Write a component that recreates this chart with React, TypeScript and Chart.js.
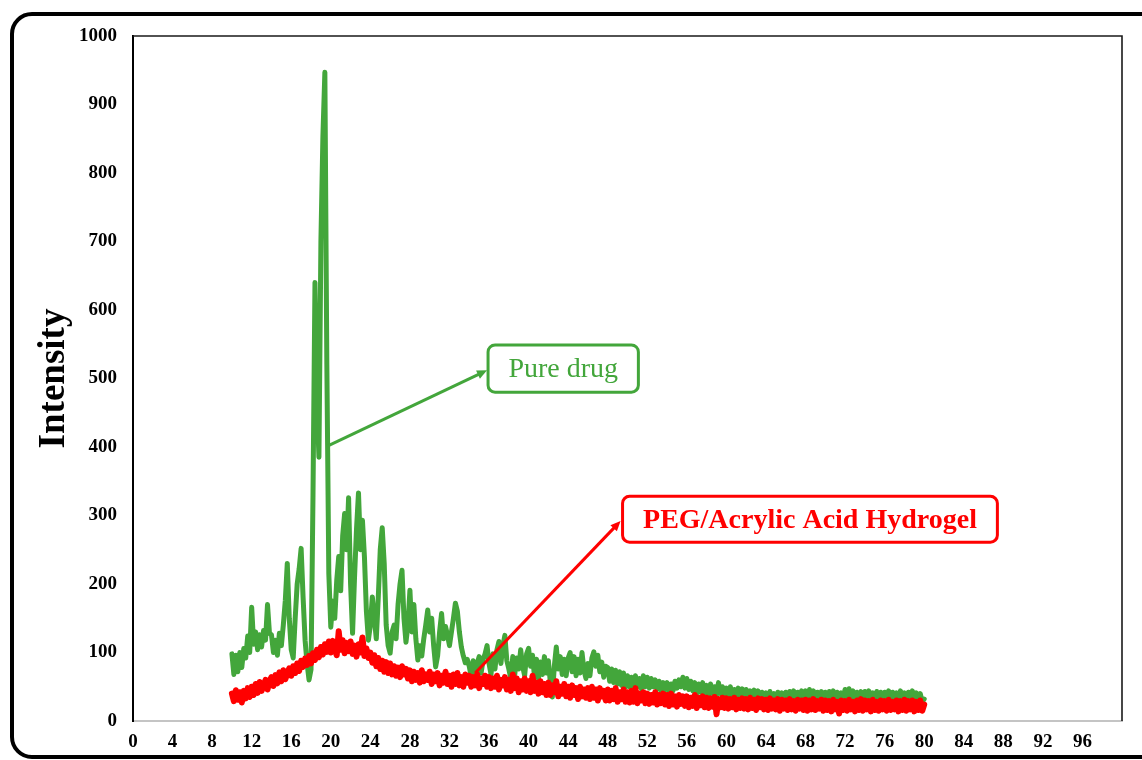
import React, { useEffect, useRef } from "react";
import { Chart, registerables } from "chart.js";

Chart.register(...registerables);

// 2-theta grid of the scans (degrees)
const ANGLE_START = 10;
const ANGLE_STEP = 0.2;

// Pure drug intensities, 10.0 .. 80.0 deg, step 0.2
const pureDrug: number[] = [
  98, 68, 96, 72, 100, 78, 106, 92, 124, 100,
  166, 112, 130, 104, 126, 108, 132, 118, 170, 128,
  126, 100, 118, 96, 128, 110, 140, 176, 230, 150,
  104, 92, 150, 200, 222, 252, 180, 118, 84, 60,
  75, 330, 640, 470, 385, 700, 852, 947, 520, 215,
  137, 175, 150, 205, 240, 190, 270, 303, 250, 326,
  200, 128, 210, 280, 333, 250, 293, 240, 160, 118,
  140, 181, 150, 120, 180, 250, 282, 230, 140, 110,
  99, 130, 140, 120, 170, 200, 220, 150, 115, 140,
  191, 130, 170, 120, 89, 110, 95, 120, 140, 162,
  130, 150, 110, 79, 95, 130, 157, 120, 138, 125,
  110, 130, 150, 172, 160, 130, 108, 95, 85, 90,
  80, 64, 88, 62, 84, 94, 70, 90, 98, 110,
  84, 68, 98, 76, 104, 116, 84, 110, 125, 88,
  76, 62, 94, 68, 92, 76, 104, 80, 66, 98,
  106, 80, 96, 64, 90, 62, 86, 68, 94, 70,
  88, 56, 35, 80, 108, 76, 94, 68, 90, 66,
  92, 100, 72, 94, 66, 90, 70, 100, 74, 62,
  84, 66, 92, 101, 80, 96, 72, 86, 64, 80,
  78, 58, 76, 56, 74, 54, 72, 52, 70, 50,
  66, 50, 64, 48, 66, 50, 62, 47, 66, 50,
  64, 48, 62, 50, 60, 46, 58, 44, 56, 46,
  56, 42, 54, 44, 58, 48, 60, 50, 64, 48,
  62, 46, 58, 44, 56, 40, 54, 42, 56, 40,
  52, 38, 54, 40, 50, 38, 56, 40, 50, 38,
  48, 34, 50, 36, 46, 34, 48, 36, 47, 33,
  46, 33, 44, 34, 45, 31, 44, 32, 42, 31,
  41, 30, 43, 32, 40, 29, 42, 31, 41, 29,
  42, 31, 43, 32, 44, 30, 42, 33, 44, 31,
  44, 33, 46, 32, 44, 31, 42, 32, 43, 33,
  42, 31, 43, 34, 44, 32, 42, 31, 41, 32,
  46, 35, 47, 34, 44, 33, 42, 32, 43, 31,
  43, 32, 44, 33, 41, 31, 43, 32, 42, 31,
  42, 33, 44, 31, 42, 32, 41, 31, 44, 32,
  41, 31, 42, 32, 44, 31, 41, 30, 40, 28,
  32,
];

// PEG/Acrylic Acid Hydrogel intensities, 10.0 .. 80.0 deg, step 0.2
const hydrogel: number[] = [
  40, 29, 45, 31, 42, 27, 44, 33, 48, 35,
  50, 38, 54, 41, 57, 44, 52, 60, 46, 58,
  64, 51, 67, 55, 71, 58, 74, 61, 69, 77,
  66, 80, 70, 84, 73, 88, 79, 91, 82, 95,
  84, 99, 89, 104, 93, 108, 97, 112, 101, 116,
  100, 117, 105, 96, 131, 104, 118, 99, 114, 102,
  116, 98, 110, 94, 112, 100, 122, 95, 106, 92,
  100, 85, 96, 80, 92, 76, 88, 72, 86, 70,
  84, 68, 80, 66, 78, 64, 80, 68, 76, 62,
  74, 58, 72, 60, 70, 56, 74, 58, 68, 60,
  72, 54, 68, 58, 70, 52, 66, 56, 72, 54,
  66, 50, 68, 54, 70, 52, 64, 50, 68, 56,
  66, 50, 64, 52, 68, 48, 62, 54, 66, 50,
  64, 48, 62, 50, 66, 46, 60, 52, 64, 46,
  60, 44, 68, 48, 62, 42, 58, 46, 62, 44,
  58, 42, 66, 44, 56, 40, 58, 42, 54, 38,
  56, 38, 52, 42, 58, 36, 50, 40, 54, 36,
  50, 34, 52, 38, 48, 32, 50, 36, 46, 34,
  48, 32, 50, 34, 46, 30, 48, 36, 44, 30,
  46, 30, 44, 32, 48, 28, 42, 32, 46, 28,
  42, 27, 44, 28, 48, 26, 40, 30, 42, 26,
  40, 25, 38, 27, 42, 24, 38, 26, 40, 24,
  38, 22, 40, 24, 36, 21, 38, 25, 36, 22,
  36, 20, 34, 22, 38, 19, 34, 23, 36, 20,
  34, 19, 33, 21, 35, 10, 32, 20, 34, 19,
  33, 18, 32, 20, 34, 17, 31, 19, 33, 18,
  32, 17, 34, 19, 31, 16, 33, 20, 32, 17,
  31, 16, 33, 18, 30, 17, 32, 15, 31, 18,
  30, 16, 32, 17, 29, 15, 31, 18, 30, 16,
  31, 15, 30, 17, 32, 16, 29, 18, 31, 15,
  30, 16, 29, 14, 31, 17, 28, 11, 30, 16,
  29, 15, 31, 17, 28, 14, 30, 16, 32, 15,
  30, 17, 29, 14, 31, 16, 28, 15, 30, 17,
  29, 15, 31, 16, 28, 17, 30, 14, 29, 16,
  31, 15, 29, 17, 30, 14, 28, 16, 30, 15,
  24,
];

const X_MIN = 0;
const X_MAX = 100;
const X_STEP = 4;
const X_LAST_LABEL = 96;
const Y_MIN = 0;
const Y_MAX = 1000;
const Y_STEP = 100;

const SERIES_NAMES = ["Pure drug", "PEG/Acrylic Acid Hydrogel"];
const Y_TITLE = "Intensity";

// callouts in data coordinates
const callouts = [
  {
    text: "Pure drug",
    color: "#43a63b",
    bold: false,
    from: [19.6, 401],
    to: [35.8, 512],
    box: [35.9, 549, 51.1, 480],
  },
  {
    text: "PEG/Acrylic Acid Hydrogel",
    color: "#ff0000",
    bold: true,
    from: [34.6, 70],
    to: [49.3, 292],
    box: [49.5, 328, 87.4, 261],
  },
];

const SERIF = "'Liberation Serif', 'Times New Roman', serif";

const toPoints = (vals: number[]) =>
  vals.map((v, i) => ({ x: +(ANGLE_START + i * ANGLE_STEP).toFixed(1), y: v }));

const framePlugin = {
  id: "frame",
  beforeDraw(chart: any) {
    const ctx = chart.ctx;
    ctx.save();
    ctx.fillStyle = "#ffffff";
    ctx.fillRect(0, 0, chart.width, chart.height);
    ctx.strokeStyle = "#000000";
    ctx.lineWidth = 4;
    ctx.beginPath();
    (ctx as any).roundRect(12, 14, 1150, 743, 20);
    ctx.stroke();
    ctx.restore();
  },
  afterDraw(chart: any) {
    const { ctx, chartArea } = chart;
    ctx.save();
    ctx.strokeStyle = "#1a1a1a";
    ctx.lineWidth = 1.6;
    ctx.beginPath();
    ctx.moveTo(chartArea.left, chartArea.top);
    ctx.lineTo(chartArea.right, chartArea.top);
    ctx.lineTo(chartArea.right, chartArea.bottom);
    ctx.stroke();
    ctx.restore();
  },
};

const calloutPlugin = {
  id: "callouts",
  afterDatasetsDraw(chart: any) {
    const ctx = chart.ctx;
    const xs = chart.scales.x;
    const ys = chart.scales.y;
    ctx.save();
    for (const c of callouts) {
      const x1 = xs.getPixelForValue(c.from[0]);
      const y1 = ys.getPixelForValue(c.from[1]);
      const x2 = xs.getPixelForValue(c.to[0]);
      const y2 = ys.getPixelForValue(c.to[1]);
      const ang = Math.atan2(y2 - y1, x2 - x1);
      const head = 11;
      ctx.strokeStyle = c.color;
      ctx.fillStyle = c.color;
      ctx.lineWidth = 3;
      ctx.beginPath();
      ctx.moveTo(x1, y1);
      ctx.lineTo(x2 - Math.cos(ang) * head * 0.8, y2 - Math.sin(ang) * head * 0.8);
      ctx.stroke();
      ctx.beginPath();
      ctx.moveTo(x2, y2);
      ctx.lineTo(x2 - head * Math.cos(ang - 0.42), y2 - head * Math.sin(ang - 0.42));
      ctx.lineTo(x2 - head * Math.cos(ang + 0.42), y2 - head * Math.sin(ang + 0.42));
      ctx.closePath();
      ctx.fill();

      const bl = xs.getPixelForValue(c.box[0]);
      const bt = ys.getPixelForValue(c.box[1]);
      const br = xs.getPixelForValue(c.box[2]);
      const bb = ys.getPixelForValue(c.box[3]);
      ctx.beginPath();
      (ctx as any).roundRect(bl, bt, br - bl, bb - bt, 7);
      ctx.fillStyle = "#ffffff";
      ctx.fill();
      ctx.lineWidth = 3;
      ctx.strokeStyle = c.color;
      ctx.stroke();
      ctx.fillStyle = c.color;
      ctx.font = `${c.bold ? "bold " : ""}28px ${SERIF}`;
      ctx.textAlign = "center";
      ctx.textBaseline = "middle";
      ctx.fillText(c.text, (bl + br) / 2, (bt + bb) / 2 + 1);
    }
    ctx.restore();
  },
};

export default function App() {
  const ref = useRef<HTMLCanvasElement | null>(null);

  useEffect(() => {
    if (!ref.current) return;
    const chart = new Chart(ref.current, {
      type: "line",
      data: {
        datasets: [
          {
            label: SERIES_NAMES[1],
            data: toPoints(hydrogel),
            borderColor: "#ff0000",
            backgroundColor: "#ff0000",
            borderWidth: 6,
            borderJoinStyle: "round",
            borderCapStyle: "round",
            pointRadius: 0,
            tension: 0,
            order: 1,
          },
          {
            label: SERIES_NAMES[0],
            data: toPoints(pureDrug),
            borderColor: "#43a63b",
            backgroundColor: "#43a63b",
            borderWidth: 5,
            borderJoinStyle: "round",
            borderCapStyle: "round",
            pointRadius: 0,
            tension: 0,
            order: 2,
          },
        ],
      },
      options: {
        responsive: false,
        animation: false,
        events: [],
        layout: { padding: { left: 12, top: 36, right: 20, bottom: 0 } },
        plugins: {
          legend: { display: false },
          tooltip: { enabled: false },
          title: { display: false },
        },
        scales: {
          x: {
            type: "linear",
            min: X_MIN,
            max: X_MAX,
            grid: { display: false, drawTicks: false },
            border: { display: true, color: "#c4c4c4", width: 2 },
            ticks: {
              stepSize: X_STEP,
              padding: 10,
              color: "#000000",
              font: { family: SERIF, size: 19, weight: "bold" },
              maxRotation: 0,
              autoSkip: false,
              callback: (v: any) => (Number(v) <= X_LAST_LABEL ? String(v) : ""),
            },
            afterFit: (s: any) => {
              s.height = 39;
            },
          },
          y: {
            min: Y_MIN,
            max: Y_MAX,
            grid: { display: false, drawTicks: false },
            border: { display: true, color: "#000000", width: 2 },
            ticks: {
              stepSize: Y_STEP,
              padding: 16,
              color: "#000000",
              font: { family: SERIF, size: 19, weight: "bold" },
              callback: (v: any) => String(v),
            },
            title: {
              display: true,
              text: Y_TITLE,
              color: "#000000",
              font: { family: SERIF, size: 37, weight: "bold" },
              padding: { top: 20, bottom: 0 },
            },
            afterFit: (s: any) => {
              s.width = 121;
            },
          },
        },
      },
      plugins: [framePlugin, calloutPlugin],
    } as any);
    return () => chart.destroy();
  }, []);

  return (
    <div style={{ position: "absolute", left: 0, top: 0, width: 1142, height: 760 }}>
      <canvas ref={ref} width={1142} height={760} style={{ display: "block" }} />
    </div>
  );
}
